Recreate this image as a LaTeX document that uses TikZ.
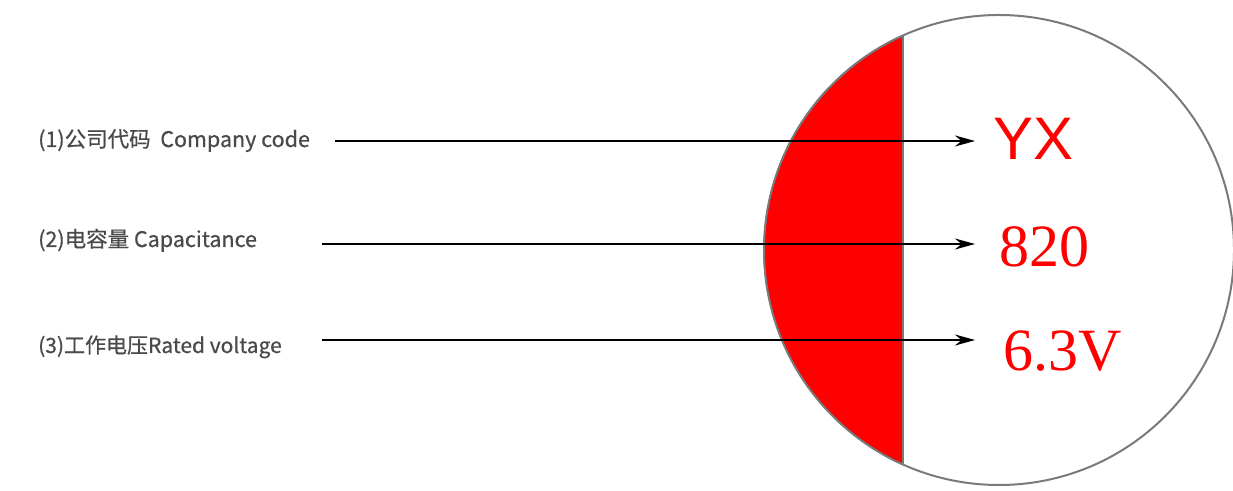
\documentclass[tikz,border=0pt]{standalone}
\usepackage{fontspec}
\usetikzlibrary{arrows.meta,calc}
\newfontfamily\cjkfont[FakeBold=0.6]{Noto Sans CJK SC}
\newfontfamily\valsans{Liberation Sans}
\newfontfamily\valserif{Liberation Serif}
\definecolor{labelgray}{HTML}{4A4A4A}
\definecolor{rimgray}{HTML}{7A7A7A}
\definecolor{pure red}{HTML}{FF0000}
\tikzset{
  lab/.style={anchor=base west, inner sep=0pt, text=labelgray, font=\cjkfont\fontsize{21.5}{21.5}\selectfont},
  valsansst/.style={anchor=base west, inner sep=0pt, text=pure red, font=\valsans\fontsize{60}{60}\selectfont},
  valserifst/.style={anchor=base west, inner sep=0pt, text=pure red, font=\valserif\fontsize{60}{60}\selectfont},
  pointer/.style={draw=black, line width=1.8pt, -{Stealth[length=20pt,width=11pt]}},
}
\begin{document}
\begin{tikzpicture}[x=1pt,y=1pt]
\useasboundingbox (0,0) rectangle (1233,490);
\coordinate (c) at (999,240);
% red segment
\fill[pure red] (c) ++(114.1:235) arc[start angle=114.1, end angle=245.9, radius=235] -- cycle;
\draw[black!80, line width=1.2pt] (c) ++(114.1:235) arc[start angle=114.1, end angle=245.9, radius=235];
% circle
\draw[rimgray, line width=2pt] (c) circle[radius=235];
\draw[rimgray, line width=1.6pt] (c) ++(114.1:235) -- ++(0,-429);
% labels
\node[lab] (l1) at (38,343) {(1)公司代码\ \ Company code};
\node[lab] (l2) at (38,243) {(2)电容量 Capacitance};
\node[lab, font=\cjkfont\fontsize{21}{21}\selectfont] (l3) at (38,137) {(3)工作电压Rated voltage};
% values
\node[valsansst] (v1) at (993,330) {YX};
\node[valserifst] (v2) at (999,223) {820};
\node[valserifst] (v3) at (1003,120) {6.3V};
% arrows
\coordinate (s1) at (335,349);
\coordinate (s2) at (322,246);
\coordinate (s3) at (322,150);
\coordinate (e1) at (975,349);
\coordinate (e2) at (975,246);
\coordinate (e3) at (975,150);
\draw[pointer] (s1) -- (e1);
\draw[pointer] (s2) -- (e2);
\draw[pointer] (s3) -- (e3);
\end{tikzpicture}
\end{document}
